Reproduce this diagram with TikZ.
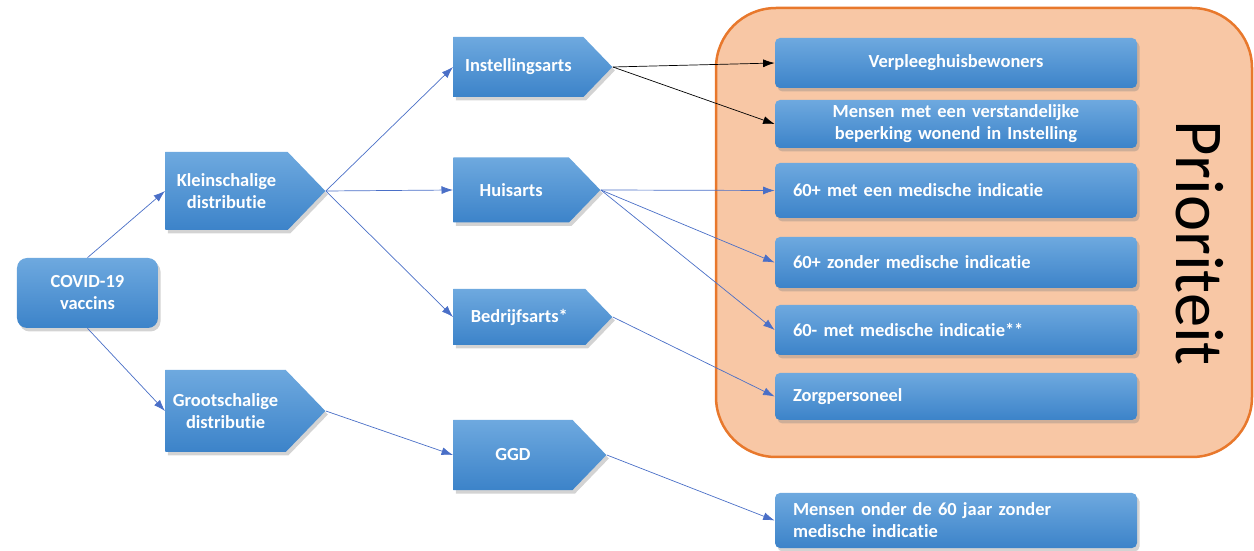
\documentclass[tikz,border=0pt]{standalone}
\usepackage{fontspec}
\setmainfont{Carlito}[Ligatures=NoCommon]
\usetikzlibrary{arrows.meta}
\usetikzlibrary{shapes.symbols}
\usetikzlibrary{shadows}
\definecolor{boxtop}{HTML}{6EA9DF}
\definecolor{boxbot}{HTML}{3C83C9}
\definecolor{prio}{HTML}{F8C7A5}
\definecolor{prioline}{HTML}{E8782C}
\definecolor{pijl}{HTML}{4A6FC7}
\tikzset{
  blok/.style={top color=boxtop,bottom color=boxbot,draw=none,text=white,
    font=\fontsize{10.5}{12.5}\selectfont\bfseries,
    drop shadow={opacity=0.35,shadow xshift=0.5mm,shadow yshift=-0.7mm}},
  pijlblok/.style={blok,signal,signal to=east,signal pointer angle=92,inner sep=0pt,align=center,anchor=west},
  lijst/.style={blok,rounded corners=1mm,minimum width=72.4mm,inner xsep=3.6mm,inner ysep=0pt,text width=65.2mm},
  verbind/.style={pijl,-{Latex[length=2.3mm,width=1.6mm]}},
}
\begin{document}
\begin{tikzpicture}[x=0.2mm,y=-0.2mm]
\useasboundingbox (0,0) rectangle (1254,551);

\draw[prioline,fill=prio,line width=0.5mm,rounded corners=12mm] (716,8) rectangle (1252,457);
\node[rotate=-90,font=\fontsize{39}{40}\selectfont] (prioriteit) at (1200,243) {Prioriteit};

\node[blok,rounded corners=2mm,minimum width=28.2mm,minimum height=14mm,align=center] (vaccins) at (87.5,293) {COVID-19\\vaccins};

\node[pijlblok,minimum width=32mm,minimum height=15.6mm] (klein) at (165,191) {Kleinschalige\\distributie};
\node[pijlblok,minimum width=32mm,minimum height=16.4mm] (groot) at (165,411) {Grootschalige\\distributie};

\node[pijlblok,minimum width=31.8mm,minimum height=12mm] (inst) at (453,67) {Instellingsarts};
\node[pijlblok,minimum width=29.4mm,minimum height=13mm] (huis) at (453,190) {Huisarts};
\node[pijlblok,minimum width=31.8mm,minimum height=11.2mm] (bedrijf) at (453,317) {Bedrijfsarts*};
\node[pijlblok,minimum width=30.6mm,minimum height=14mm] (ggd) at (453,455) {GGD};

\node[lijst,minimum height=10mm,align=center] (verpleeg) at (956,63) {Verpleeghuisbewoners};
\node[lijst,minimum height=9.6mm,align=center] (verst) at (956,124) {Mensen met een verstandelijke\\beperking wonend in Instelling};
\node[lijst,minimum height=11mm,align=left] (met60) at (956,190.5) {60+ met een medische indicatie};
\node[lijst,minimum height=10.2mm,align=left] (zonder60) at (956,262.5) {60+ zonder medische indicatie};
\node[lijst,minimum height=10mm,align=left] (min60) at (956,330) {60- met medische indicatie**};
\node[lijst,minimum height=9.4mm,align=left] (zorg) at (956,396.5) {Zorgpersoneel};
\node[lijst,minimum height=11mm,align=left] (onder) at (956,520.5) {Mensen onder de 60 jaar zonder\\medische indicatie};

\draw[verbind] (vaccins.north) -- (klein.west);
\draw[verbind] (vaccins.south) -- (groot.west);
\draw[verbind] (klein.east) -- (inst.west);
\draw[verbind] (klein.east) -- (huis.west);
\draw[verbind] (klein.east) -- (bedrijf.west);
\draw[verbind] (groot.east) -- (ggd.west);
\draw[verbind,black] (inst.east) -- (verpleeg.west);
\draw[verbind,black] (inst.east) -- (verst.west);
\draw[verbind] (huis.east) -- (met60.west);
\draw[verbind] (huis.east) -- (zonder60.west);
\draw[verbind] (huis.east) -- (min60.west);
\draw[verbind] (bedrijf.east) -- (zorg.west);
\draw[verbind] (ggd.east) -- (onder.west);

\end{tikzpicture}
\end{document}
